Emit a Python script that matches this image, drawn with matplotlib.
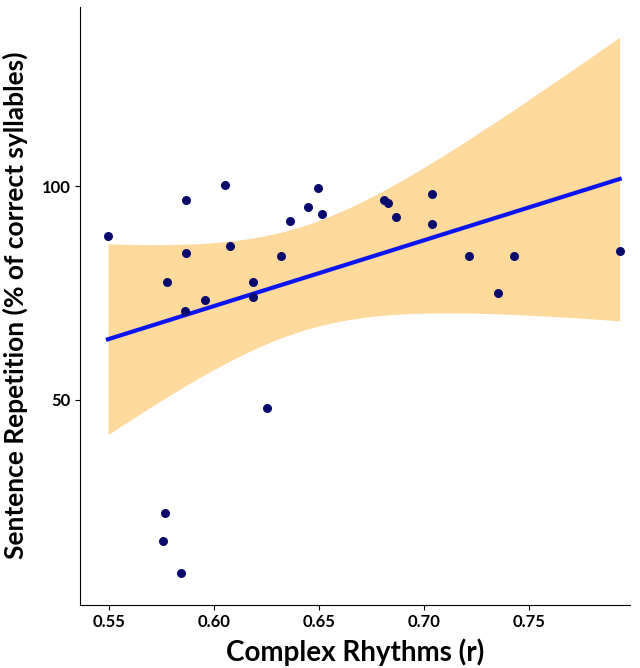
import numpy as np
import matplotlib
matplotlib.use('Agg')
import matplotlib.pyplot as plt

plt.rcParams['font.family'] = ['Lato', 'DejaVu Sans']

# ── Data ────────────────────────────────────────────────────────────────────
rhythm = [0.5495, 0.5867, 0.6052, 0.6495, 0.6448, 0.6514, 0.6362, 0.5867, 0.6076, 0.6319,
          0.5776, 0.6186, 0.5957, 0.5862, 0.6186, 0.6252, 0.6810, 0.6829, 0.6867, 0.7038,
          0.7038, 0.7214, 0.7424, 0.7348, 0.7929, 0.5767, 0.5757, 0.5843]
repetition = [88.3, 96.7, 100.2, 99.5, 95.1, 93.5, 91.8, 84.4, 86.0, 83.6,
              77.6, 77.6, 73.4, 70.8, 74.1, 48.1, 96.7, 96.0, 92.8, 98.1,
              91.1, 83.6, 83.6, 75.0, 84.8, 23.4, 16.8, 9.3]

x = np.array(rhythm)
y = np.array(repetition)

# linear fit with confidence band (width scaled to match the original)
b, a = np.polyfit(x, y, 1)
xs = np.linspace(x.min(), x.max(), 200)
ys = a + b * xs
n = len(x)
resid = y - (a + b * x)
s = np.sqrt(np.sum(resid ** 2) / (n - 2))
se = s * np.sqrt(1 / n + (xs - x.mean()) ** 2 / np.sum((x - x.mean()) ** 2))
t = 2.8

fig, ax = plt.subplots(figsize=(6.4, 6.68), dpi=100)
fig.subplots_adjust(left=0.125, right=0.985, bottom=0.095, top=0.99)

ax.fill_between(xs, ys - t * se, ys + t * se, color='#fdd99b', linewidth=0)
ax.plot(xs, ys, color='#0a14f0', linewidth=3)
ax.scatter(x, y, s=30, color='#0a0a6e', zorder=3)

ax.set_xlim(0.5362, 0.798)
ax.set_ylim(2, 142)
ax.set_xticks([0.55, 0.60, 0.65, 0.70, 0.75])
ax.set_xticklabels(['0.55', '0.60', '0.65', '0.70', '0.75'])
ax.set_yticks([50, 100])
ax.tick_params(labelsize=12)
for lab in ax.get_xticklabels() + ax.get_yticklabels():
    lab.set_fontweight('bold')
for sp in ['top', 'right']:
    ax.spines[sp].set_visible(False)

ax.set_xlabel('Complex Rhythms (r)', fontsize=20, fontweight='bold', labelpad=6)
ax.set_ylabel('Sentence Repetition (% of correct syllables)', fontsize=19,
              fontweight='bold', labelpad=10)

fig.savefig('out.png')
